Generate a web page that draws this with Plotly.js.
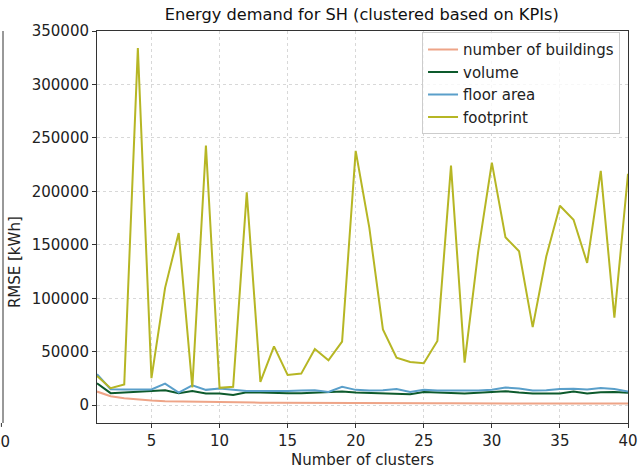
<!DOCTYPE html>
<html>
<head>
<meta charset="utf-8">
<script src="https://cdn.plot.ly/plotly-3.0.1.min.js"></script>
<style>html,body{margin:0;padding:0;background:#fff;}#chart{width:643px;height:470px;}</style>
</head>
<body>
<div id="chart"></div>
<script>
const clusters = [1,2,3,4,5,6,7,8,9,10,11,12,13,14,15,16,17,18,19,20,21,22,23,24,25,26,27,28,29,30,31,32,33,34,35,36,37,38,39,40];
const seriesNames = ["number of buildings", "volume", "floor area", "footprint"];
const numberOfBuildings = [12700,8400,6500,5300,4400,3700,3400,3100,2800,2600,2500,2400,2300,2200,2100,2100,2000,2000,1900,1900,1900,1800,1800,1800,1700,1700,1700,1700,1600,1600,1600,1600,1600,1500,1500,1500,1500,1500,1500,1500];
const volume = [20500,11200,11800,12400,13300,14000,11200,13300,10900,10900,9600,12100,11800,11200,11200,11200,11800,11800,12700,11800,11500,11500,11200,10300,12400,11800,11200,10900,11500,12100,13100,11800,10900,10900,10900,12700,10900,12100,12400,11500];
const floorArea = [28900,14900,14600,14600,14600,20200,11800,18600,14300,15600,14300,13300,13300,13100,13300,13600,14000,12400,17100,14300,13600,14000,15000,12400,14300,13600,13300,13700,13700,14300,16500,15600,13700,14000,15000,15300,14600,16100,15000,12700];
const footprint = [27300,15900,19300,334000,25200,109700,161000,16500,242800,16200,17100,199000,21700,55000,28300,29500,52500,42000,59400,237800,166000,70900,44400,40400,39200,60000,224100,39800,143900,226900,157000,143900,73000,139200,186500,173500,133000,219200,81800,216400];
const xTicks = [5,10,15,20,25,30,35,40];
const yTicks = [0,50000,100000,150000,200000,250000,300000,350000];

const colors = ["#eea487", "#0d5a2c", "#5a9fca", "#b6b624"];
const values = [numberOfBuildings, volume, floorArea, footprint];

const traces = values.map((v, i) => ({
  x: clusters, y: v, name: seriesNames[i], type: "scatter", mode: "lines",
  line: {color: colors[i], width: 2}
}));

const font = {family: "DejaVu Sans", size: 15, color: "#222"};
const layout = {
  width: 643, height: 470,
  margin: {l: 97, r: 15, t: 31, b: 47},
  paper_bgcolor: "#fff", plot_bgcolor: "#fff",
  font: font,
  title: {text: "Energy demand for SH (clustered based on KPIs)", font: {family: "DejaVu Sans", size: 16.2, color: "#111"}, x: 0.5625, xanchor: "center", y: 0.982, yanchor: "top"},
  xaxis: {
    range: [1, 40], tickvals: xTicks, ticks: "outside", ticklen: 4, tickcolor: "#333",
    showline: true, linecolor: "#333", linewidth: 1, mirror: true,
    showgrid: true, gridcolor: "#d8d8d8", griddash: "dot", gridwidth: 1, zeroline: false,
    title: {text: "Number of clusters", font: font, standoff: 5}
  },
  yaxis: {
    range: [-16700, 350000], tickvals: yTicks, tickformat: "d", ticks: "outside", ticklen: 4, tickcolor: "#333",
    showline: true, linecolor: "#333", linewidth: 1, mirror: true,
    showgrid: true, gridcolor: "#d8d8d8", griddash: "dot", gridwidth: 1, zeroline: false
  },
  legend: {x: 0.985, xanchor: "right", y: 0.997, yanchor: "top", bgcolor: "rgba(255,255,255,0.8)", bordercolor: "#ccc", borderwidth: 1, font: font, tracegroupgap: 0},
  showlegend: true,
  shapes: [
    {type: "line", xref: "paper", yref: "paper", x0: -0.177, x1: -0.177, y0: 0, y1: 1, line: {color: "#333", width: 1}},
    {type: "line", xref: "paper", yref: "paper", x0: -0.18, x1: -0.18, y0: 0, y1: -0.01, line: {color: "#333", width: 1}}
  ],
  annotations: [
    {text: "RMSE [kWh]", textangle: -90, xref: "paper", yref: "paper", x: -0.154, y: 0.411, xanchor: "center", yanchor: "middle", showarrow: false, font: font},
    {text: "40", xref: "paper", yref: "paper", x: -0.16, y: -0.02, xanchor: "right", yanchor: "top", showarrow: false, font: font}
  ]
};
Plotly.newPlot("chart", traces, layout, {displayModeBar: false, staticPlot: true});
</script>
</body>
</html>
